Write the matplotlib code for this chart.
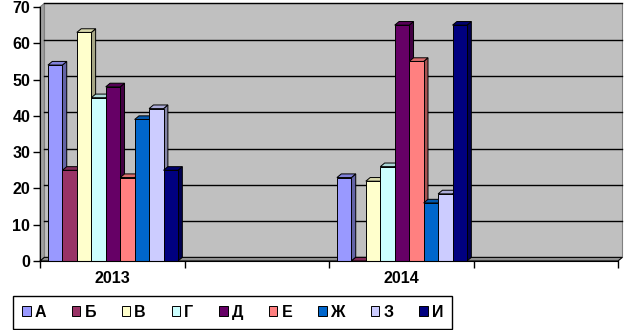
import numpy as np
import matplotlib
matplotlib.use("Agg")
from matplotlib import pyplot as plt
from matplotlib.patches import Polygon
from matplotlib.colors import to_rgb

# categories on the x axis (two empty slots like in the original)
categories = ["2013", "", "2014", ""]
series = ["А", "Б", "В", "Г", "Д", "Е", "Ж", "З", "И"]
values = {
    "А": [54, np.nan, 23, np.nan],
    "Б": [25, np.nan, 0, np.nan],
    "В": [63, np.nan, 22, np.nan],
    "Г": [45, np.nan, 26, np.nan],
    "Д": [48, np.nan, 65, np.nan],
    "Е": [23, np.nan, 55, np.nan],
    "Ж": [39, np.nan, 16, np.nan],
    "З": [42, np.nan, 18.5, np.nan],
    "И": [25, np.nan, 65, np.nan],
}
colors = ["#9999FF", "#993366", "#FFFFCC", "#CCFFFF", "#660066",
          "#FF8080", "#0066CC", "#CCCCFF", "#000080"]
yticks = [0, 10, 20, 30, 40, 50, 60, 70]

plt.rcParams["font.family"] = ["Liberation Sans", "DejaVu Sans"]
plt.rcParams["font.weight"] = "bold"

def shade(c, f):
    r, g, b = to_rgb(c)
    return (r * f, g * f, b * f)

fig = plt.figure(figsize=(6.26, 3.3), dpi=100)
ax = fig.add_axes([40 / 626, 69 / 330, 578 / 626, 254 / 330])
ax.set_xlim(-0.5, len(categories) - 0.5)
ax.set_ylim(0, 70)
ax.patch.set_visible(False)

# depth of the 3d look, in data units
dx, dy = 0.03, 1.0
x0, x1 = -0.5, len(categories) - 0.5

# back wall, left wall and floor
ax.add_patch(Polygon([(x0 + dx, dy), (x1 + dx, dy), (x1 + dx, 70 + dy), (x0 + dx, 70 + dy)],
                     closed=True, facecolor="#c0c0c0", edgecolor="#808080", lw=0.8, zorder=0, clip_on=False))
ax.add_patch(Polygon([(x0, 0), (x0 + dx, dy), (x0 + dx, 70 + dy), (x0, 70)],
                     closed=True, facecolor="#a0a0a0", edgecolor="#808080", lw=0.8, zorder=0.5, clip_on=False))
ax.add_patch(Polygon([(x0, 0), (x1, 0), (x1 + dx, dy), (x0 + dx, dy)],
                     closed=True, facecolor="#909090", edgecolor="black", lw=0.8, zorder=0.5, clip_on=False))
for t in yticks[1:]:
    ax.plot([x0 + dx, x1 + dx], [t + dy, t + dy], color="black", lw=1, zorder=0.6, clip_on=False)

# bars
bw = 0.1
start = -0.5 + 0.055
z = 1
xs = np.arange(len(categories))
for i, s in enumerate(series):
    vals = np.array(values[s], dtype=float)
    left = xs + start + i * bw
    for xl, v in zip(left, vals):
        if np.isnan(v):
            continue
        c = colors[i]
        side = Polygon([(xl + bw, 0), (xl + bw + dx, dy), (xl + bw + dx, v + dy), (xl + bw, v)],
                       closed=True, facecolor=shade(c, 0.65), edgecolor="black", lw=0.7, zorder=z)
        top = Polygon([(xl, v), (xl + dx, v + dy), (xl + bw + dx, v + dy), (xl + bw, v)],
                      closed=True, facecolor=shade(c, 0.85), edgecolor="black", lw=0.7, zorder=z)
        ax.add_patch(side)
        ax.add_patch(top)
        ax.bar(xl, v, width=bw, align="edge", color=c, edgecolor="black", lw=0.7, zorder=z + 0.5)
        z += 1
    ax.bar(0, 0, width=0, color=colors[i], edgecolor="black", lw=0.7, label=s)

ax.spines["top"].set_visible(False)
ax.spines["right"].set_visible(False)
ax.spines["left"].set_zorder(50)
ax.spines["bottom"].set_zorder(50)
ax.set_yticks(yticks)
ax.tick_params(axis="y", labelsize=11.5, length=5, width=1, pad=2)
ax.set_xticks(xs)
ax.set_xticklabels(categories)
ax.set_xticks(np.arange(len(categories) + 1) - 0.5, minor=True)
ax.tick_params(axis="x", which="major", length=0, labelsize=11.5, pad=7)
ax.tick_params(axis="x", which="minor", length=5, width=1)

leg = fig.legend(loc="upper left", bbox_to_anchor=(13 / 626, 1 - 296 / 330), ncol=9,
                 frameon=True, fancybox=False, edgecolor="black", framealpha=1,
                 handlelength=0.55, handleheight=0.55, handletextpad=0.25,
                 columnspacing=1.6, borderpad=0.55, borderaxespad=0, fontsize=11.5)
leg.get_frame().set_linewidth(1)

fig.savefig("out.png", dpi=100)
